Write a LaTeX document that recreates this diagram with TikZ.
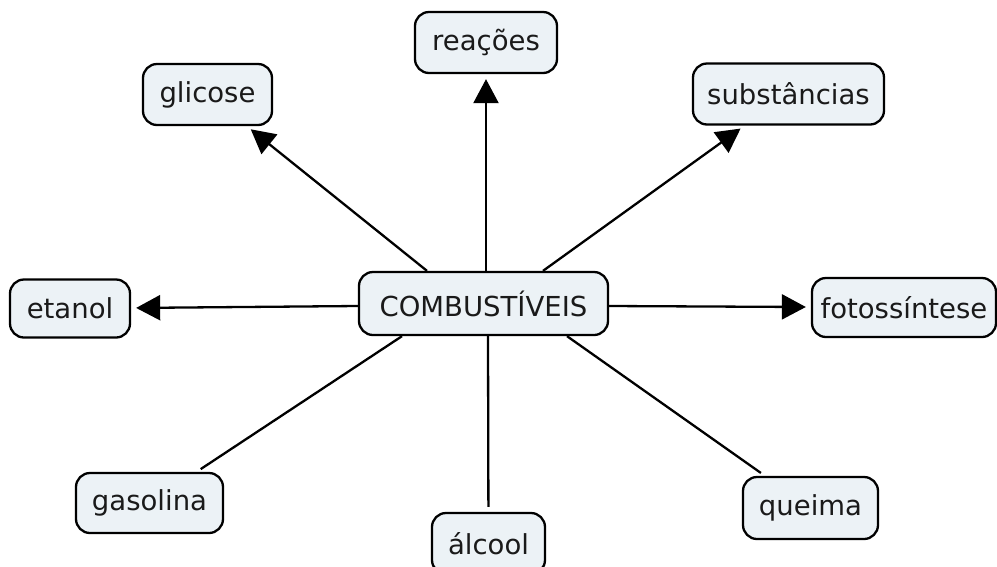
\documentclass[tikz,border=0pt]{standalone}
\usepackage{fontspec}
\setmainfont{DejaVu Sans}
\usetikzlibrary{arrows.meta,calc}

\definecolor{conceptfill}{HTML}{ECF2F6}
\definecolor{inktext}{HTML}{1A1A1A}

\tikzset{
  concept/.style={draw=black, line width=2.3pt, fill=conceptfill, rounded corners=14pt,
    inner xsep=6pt, inner ysep=0pt, minimum height=61pt, text=inktext,
    font=\fontsize{27.5}{33}\selectfont},
  link/.style={draw=black, line width=2.3pt, shorten >=5pt},
  arrowlink/.style={link, -{Triangle[length=24pt,width=25pt]}}
}

\begin{document}
\begin{tikzpicture}[x=1pt,y=-1pt]
  \useasboundingbox (0,0) rectangle (997,566);
  \clip (0,0) rectangle (997,566);

  % central concept
  \node[concept, minimum height=63pt, minimum width=249pt] (comb) at (483.5,303.5) {COMBUSTÍVEIS};

  % surrounding concepts
  \node[concept, minimum width=142pt] (reacoes)  at (486,42.5)   {reações};
  \node[concept, minimum width=129pt] (glicose)  at (207.5,94.5) {glicose};
  \node[concept, minimum width=191pt] (subst)    at (788.5,94)   {substâncias};
  \node[concept, minimum width=120pt, minimum height=58pt] (etanol) at (70,308.5) {etanol};
  \node[concept, minimum width=184pt, minimum height=59pt] (foto) at (904,307.5) {fotossíntese};
  \node[concept, minimum width=147pt, minimum height=60pt] (gasolina) at (149.5,503) {gasolina};
  \node[concept, minimum width=113pt] (alcool)   at (488.5,543.5) {álcool};
  \node[concept, minimum width=135pt, minimum height=62pt] (queima) at (810.5,508) {queima};

  % connectors with arrow heads
  \draw[arrowlink] ($(comb.north)+(-56.5,0)$) -- (glicose);
  \draw[arrowlink] ($(comb.north)+(2.5,0)$)   -- (reacoes);
  \draw[arrowlink] ($(comb.north)+(59.5,0)$)  -- (subst);
  \draw[arrowlink] ($(comb.west)+(0,2.5)$)    -- (etanol);
  \draw[arrowlink] ($(comb.east)+(0,2.5)$)    -- (foto);

  % plain connectors
  \draw[link] ($(comb.south)+(-81.5,0)$) -- (gasolina);
  \draw[link] ($(comb.south)+(4.5,0)$)   -- (alcool);
  \draw[link] ($(comb.south)+(83.5,0)$)  -- (queima);
\end{tikzpicture}
\end{document}
